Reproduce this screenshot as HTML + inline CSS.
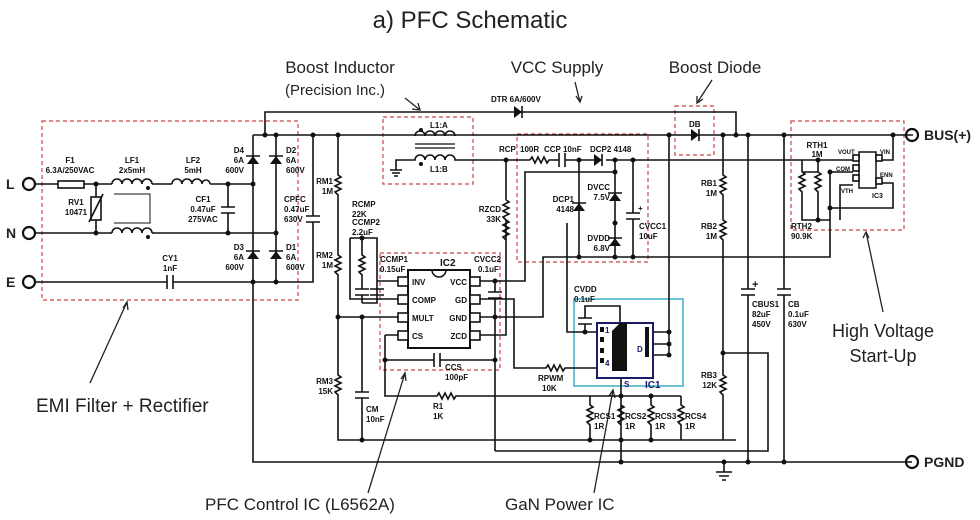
<!DOCTYPE html>
<html><head><meta charset="utf-8"><style>
html,body{margin:0;padding:0;background:#fff;}
svg{display:block;font-family:"Liberation Sans",Arial,sans-serif;}
.w{stroke:#111;stroke-width:1.6;fill:none;}
.d{stroke:#c44;stroke-width:1.2;fill:none;stroke-dasharray:4 3;}
.s{font-size:8px;font-weight:bold;fill:#111;}
.b{font-size:19px;fill:#222;}
.f{fill:#111;}
</style></head><body>
<svg width="980" height="520" viewBox="0 0 980 520" xmlns="http://www.w3.org/2000/svg">
<text x="470" y="28" class="b" text-anchor="middle" style="font-size:24px">a) PFC Schematic</text>
<text x="340" y="73" class="b" text-anchor="middle" style="font-size:17px">Boost Inductor</text>
<text x="335" y="95" class="b" text-anchor="middle" style="font-size:15px">(Precision  Inc.)</text>
<text x="557" y="73" class="b" text-anchor="middle" style="font-size:17px">VCC Supply</text>
<text x="715" y="73" class="b" text-anchor="middle" style="font-size:17px">Boost Diode</text>
<text x="36" y="412" class="b">EMI Filter + Rectifier</text>
<text x="205" y="510" class="b" style="font-size:17px">PFC Control IC (L6562A)</text>
<text x="505" y="510" class="b" style="font-size:17px">GaN Power IC</text>
<text x="883" y="337" class="b" text-anchor="middle" style="font-size:18px">High Voltage</text>
<text x="883" y="362" class="b" text-anchor="middle" style="font-size:18px">Start-Up</text>
<g class="w" style="stroke:#222;stroke-width:1.3">
<path d="M90 383 L127 302"/><path d="M123 308 L127 302 L128 310"/>
<path d="M368 493 L405 373"/><path d="M401 379 L405 373 L406 381"/>
<path d="M594 493 L613 390"/><path d="M609 396 L613 390 L615 398"/>
<path d="M883 312 L866 232"/><path d="M863 238 L866 232 L869 238"/>
<path d="M405 98 L420 110"/><path d="M412 109 L420 110 L418 103"/>
<path d="M575 82 L580 102"/><path d="M576 96 L580 102 L582 96"/>
<path d="M712 80 L697 103"/><path d="M697 96 L697 103 L703 99"/>
</g>
<rect class="d" x="42" y="121" width="256" height="179"/>
<rect class="d" x="383" y="117" width="90" height="67"/>
<rect class="d" x="517" y="134" width="131" height="128"/>
<rect class="d" x="675" y="106" width="39" height="49"/>
<rect class="d" x="791" y="121" width="113" height="109"/>
<rect class="d" x="380" y="253" width="120" height="117"/>
<rect x="574" y="299" width="109" height="87" fill="none" stroke="#3ab0c8" stroke-width="1.5"/>
<g class="w" style="stroke-width:2.2"><circle cx="29" cy="184" r="6"/><circle cx="29" cy="233" r="6"/><circle cx="29" cy="282" r="6"/><circle cx="912" cy="135" r="6"/><circle cx="912" cy="462" r="6"/></g>
<text x="6" y="189" class="b" style="font-size:14px;font-weight:bold">L</text>
<text x="6" y="238" class="b" style="font-size:14px;font-weight:bold">N</text>
<text x="6" y="287" class="b" style="font-size:14px;font-weight:bold">E</text>
<text x="924" y="140" class="b" style="font-size:14px;font-weight:bold">BUS(+)</text>
<text x="924" y="467" class="b" style="font-size:14px;font-weight:bold">PGND</text>
<g class="w">
<path d="M35 184 H58 M84 184 H112 M152 184 H172 M210 184 H253"/>
<rect x="58" y="181" width="26" height="7"/>
<path d="M112 184 a5 5 0 0 1 10 0 a5 5 0 0 1 10 0 a5 5 0 0 1 10 0 a5 5 0 0 1 10 0"/>
<path d="M112 233 a5 5 0 0 1 10 0 a5 5 0 0 1 10 0 a5 5 0 0 1 10 0 a5 5 0 0 1 10 0"/>
<path d="M172 184 a5 5 0 0 1 10 0 a5 5 0 0 1 10 0 a5 5 0 0 1 10 0 a4 4 0 0 1 8 0"/>
<path d="M114 194 H150 V223 H114" style="stroke-width:1"/>
<path d="M35 233 H112 M152 233 H276"/>
<path d="M96 184 V197 M96 220 V233"/><rect x="91" y="197" width="10" height="23"/><path d="M89 222 L103 194"/>
<path d="M228 184 V207 M228 213 V233 M221 207 H235 M221 213 H235"/>
<path d="M35 282 H167 M173 282 H313 V222 M313 216 V135 M306 216 H320 M306 222 H320 M167 275 V289 M173 275 V289"/>
<path d="M253 135 V462 H912"/>
<path d="M276 135 V282"/>
<path d="M265 135 V112 H736 V135"/>
<path d="M253 135 H913"/>
<path d="M415 136 a5 5 0 0 1 10 0 a5 5 0 0 1 10 0 a5 5 0 0 1 10 0 a5 5 0 0 1 10 0"/>
<path d="M415 144 H455 M415 148 H455" style="stroke-width:1.2"/>
<path d="M396 170 V160 H415 a5 5 0 0 1 10 0 a5 5 0 0 1 10 0 a5 5 0 0 1 10 0 a5 5 0 0 1 10 0 H530 M390 170 H402 M392 173 H400 M394 176 H398"/>
<path d="M530 160 l2 -3 l3 6 l3 -6 l3 6 l3 -6 l3 6 l2 -3 H559 M565 160 H594 M606 160 H853 M559 153 V167 M565 153 V167"/>
<path d="M338 135 V175 l3 2 l-6 3 l6 3 l-6 3 l6 3 l-6 3 l3 3 V255 l3 2 l-6 3 l6 3 l-6 3 l6 3 l-6 3 l3 3 V375 l3 2 l-6 3 l6 3 l-6 3 l6 3 l-6 3 l3 3 V440 H736"/>
<path d="M338 317 H398"/>
<path d="M362 317 V392 M355 392 H369 M355 398 H369 M362 398 V440"/>
<path d="M350 238 H377 V303 H362 M350 238 V299 H398 M362 238 V255 l3 2 l-6 3 l6 3 l-6 3 l6 3 l-6 3 l3 3 V289 M355 289 H369 M355 295 H369 M362 295 V303 M377 238 V289 M370 289 H384 M370 295 H384 M377 281 H398"/>
<rect x="408" y="270" width="62" height="78" style="stroke-width:2"/>
<path d="M432 270 a7 7 0 0 0 14 0" style="stroke-width:1.5"/>
<path d="M385 335 H398 M385 335 V396 H437 l2 -3 l3 6 l3 -6 l3 6 l3 -6 l3 6 l2 -3 H590 M385 360 H434 M440 360 H495 M434 353 V367 M440 353 V367"/>
<path d="M480 281 H525 V172 H615 M495 281 V292 M488 292 H502 M488 298 H502 M495 298 V451 M480 317 H543 V257 H830 V208 M480 299 H514 V368 H546 l2 -3 l3 6 l3 -6 l3 6 l3 -6 l3 6 l2 -3 H596 M480 335 H506 V220 l3 2 l-6 3 l6 3 l-6 3 l6 3 l-6 3 l3 3 M506 200 V160"/>
<path d="M506 200 l3 2 l-6 3 l6 3 l-6 3 l6 3 l-6 3 l3 3"/>
<path d="M495 451 H768 V353 H723"/>
<path d="M579 160 V257 M615 160 V257 M633 160 V213 M633 219 V257 M626 213 H640 M626 219 H640"/>
<path d="M567 223 V332 H596 M585 332 V324 M578 324 H592 M578 318 H592 M585 318 V306 H620 V325"/>
<path d="M669 135 V355 M653 332 H669 M653 344 H669 M653 355 H669"/>
<path d="M621 378 V462 M590 396 H681 M590 396 V405 l3 2 l-6 3 l6 3 l-6 3 l6 3 l-6 3 l3 3 V440 M621 405 l3 2 l-6 3 l6 3 l-6 3 l6 3 l-6 3 l3 3 M651 396 V405 l3 2 l-6 3 l6 3 l-6 3 l6 3 l-6 3 l3 3 V440 M681 396 V405 l3 2 l-6 3 l6 3 l-6 3 l6 3 l-6 3 l3 3 V440"/>
<path d="M723 135 V175 l3 2 l-6 3 l6 3 l-6 3 l6 3 l-6 3 l3 3 V220 l3 2 l-6 3 l6 3 l-6 3 l6 3 l-6 3 l3 3 V375 l3 2 l-6 3 l6 3 l-6 3 l6 3 l-6 3 l3 3 V440"/>
<path d="M748 135 V289 M748 295 V462 M741 289 H755 M741 295 H755 M784 135 V289 M784 295 V462 M777 289 H791 M777 295 H791"/>
<path d="M724 462 V472 M716 472 H732 M719 476 H729 M722 480 H726"/>
<path d="M893 135 V160 H880 M818 160 V172 l3 2 l-6 3 l6 3 l-6 3 l6 3 l-6 3 l3 3 V220 M802 172 V160 M802 172 l3 2 l-6 3 l6 3 l-6 3 l6 3 l-6 3 l3 3 V220 H830 M830 208 V172 H853 M853 185 H840 V220 M880 183 H893 V208 H830 M802 172 H818"/>
<rect x="859" y="152" width="17" height="36" style="stroke-width:1.5"/>
</g>
<g class="w" style="stroke-width:1.6;fill:#fff">
<rect x="398" y="277" width="10" height="9"/><rect x="398" y="295" width="10" height="9"/><rect x="398" y="313" width="10" height="9"/><rect x="398" y="331" width="10" height="9"/>
<rect x="470" y="277" width="10" height="9"/><rect x="470" y="295" width="10" height="9"/><rect x="470" y="313" width="10" height="9"/><rect x="470" y="331" width="10" height="9"/>
<rect x="853" y="155" width="6" height="6"/><rect x="853" y="165" width="6" height="6"/><rect x="853" y="175" width="6" height="6"/><rect x="876" y="155" width="6" height="6"/><rect x="876" y="178" width="6" height="6"/>
</g>
<text x="412" y="285" class="s">INV</text><text x="412" y="303" class="s">COMP</text><text x="412" y="321" class="s">MULT</text><text x="412" y="339" class="s">CS</text>
<text x="467" y="285" class="s" text-anchor="end">VCC</text><text x="467" y="303" class="s" text-anchor="end">GD</text><text x="467" y="321" class="s" text-anchor="end">GND</text><text x="467" y="339" class="s" text-anchor="end">ZCD</text>
<text x="440" y="266" class="s" style="font-size:10px">IC2</text>
<rect x="597" y="323" width="56" height="55" fill="none" stroke="#1a1a6a" stroke-width="2"/>
<path d="M612 331 L620 323 H627 V371 H612 Z" fill="#111"/>
<g fill="#111"><rect x="600" y="327" width="4" height="5"/><rect x="600" y="337" width="4" height="5"/><rect x="600" y="348" width="4" height="5"/><rect x="600" y="358" width="4" height="5"/><rect x="645" y="327" width="4" height="30"/></g>
<text x="605" y="333" class="s" style="fill:#1a1a6a">1</text><text x="605" y="366" class="s" style="fill:#1a1a6a">4</text><text x="637" y="352" class="s" style="fill:#1a1a6a">D</text><text x="624" y="387" class="s" style="fill:#1a1a6a">S</text><text x="645" y="388" class="s" style="fill:#1a1a6a;font-size:10px">IC1</text>
<g class="f">
<polygon points="247,164 259,164 253,156"/><polygon points="270,164 282,164 276,156"/>
<polygon points="247,259 259,259 253,251"/><polygon points="270,259 282,259 276,251"/>
<polygon points="514,106 514,118 522,112"/><polygon points="691,129 691,141 699,135"/>
<polygon points="594,154 594,166 602,160"/><polygon points="573,211 585,211 579,203"/>
<polygon points="609,201 621,201 615,193"/><polygon points="609,246 621,246 615,238"/>
</g>
<g class="w"><path d="M246 156 H260 M269 156 H283 M246 251 H260 M269 251 H283 M522 106 V118 M699 129 V141 M602 154 V166 M572 203 H586 M608 193 H622 M608 238 H622"/></g>
<g class="f">
<circle cx="96" cy="184" r="2.5"/><circle cx="96" cy="233" r="2.5"/><circle cx="228" cy="184" r="2.5"/><circle cx="228" cy="233" r="2.5"/>
<circle cx="253" cy="184" r="2.5"/><circle cx="276" cy="233" r="2.5"/><circle cx="253" cy="282" r="2.5"/><circle cx="276" cy="282" r="2.5"/>
<circle cx="265" cy="135" r="2.5"/><circle cx="276" cy="135" r="2.5"/><circle cx="313" cy="135" r="2.5"/><circle cx="338" cy="135" r="2.5"/>
<circle cx="338" cy="317" r="2.5"/><circle cx="362" cy="317" r="2.5"/><circle cx="362" cy="440" r="2.5"/><circle cx="362" cy="238" r="2.5"/>
<circle cx="506" cy="160" r="2.5"/><circle cx="579" cy="160" r="2.5"/><circle cx="615" cy="160" r="2.5"/><circle cx="633" cy="160" r="2.5"/>
<circle cx="615" cy="172" r="2.5"/><circle cx="615" cy="223" r="2.5"/><circle cx="579" cy="257" r="2.5"/><circle cx="615" cy="257" r="2.5"/><circle cx="633" cy="257" r="2.5"/>
<circle cx="669" cy="135" r="2.5"/><circle cx="723" cy="135" r="2.5"/><circle cx="736" cy="135" r="2.5"/><circle cx="748" cy="135" r="2.5"/><circle cx="784" cy="135" r="2.5"/><circle cx="893" cy="135" r="2.5"/>
<circle cx="669" cy="332" r="2.5"/><circle cx="669" cy="344" r="2.5"/><circle cx="669" cy="355" r="2.5"/><circle cx="585" cy="332" r="2.5"/>
<circle cx="723" cy="353" r="2.5"/><circle cx="590" cy="440" r="2.5"/><circle cx="621" cy="440" r="2.5"/><circle cx="651" cy="440" r="2.5"/><circle cx="621" cy="396" r="2.5"/><circle cx="651" cy="396" r="2.5"/>
<circle cx="621" cy="462" r="2.5"/><circle cx="724" cy="462" r="2.5"/><circle cx="748" cy="462" r="2.5"/><circle cx="784" cy="462" r="2.5"/>
<circle cx="385" cy="360" r="2.5"/><circle cx="495" cy="360" r="2.5"/><circle cx="495" cy="281" r="2.5"/><circle cx="495" cy="317" r="2.5"/>
<circle cx="818" cy="160" r="2.5"/><circle cx="818" cy="220" r="2.5"/><circle cx="830" cy="172" r="2.5"/><circle cx="830" cy="208" r="2.5"/>
<circle cx="148" cy="188" r="2"/><circle cx="148" cy="237" r="2"/><circle cx="421" cy="130" r="2"/><circle cx="421" cy="164" r="2"/>
</g>
<g class="s">
<text x="70" y="163" text-anchor="middle">F1</text><text x="70" y="173" text-anchor="middle">6.3A/250VAC</text>
<text x="132" y="163" text-anchor="middle">LF1</text><text x="132" y="173" text-anchor="middle">2x5mH</text>
<text x="193" y="163" text-anchor="middle">LF2</text><text x="193" y="173" text-anchor="middle">5mH</text>
<text x="76" y="205" text-anchor="middle">RV1</text><text x="76" y="215" text-anchor="middle">10471</text>
<text x="203" y="202" text-anchor="middle">CF1</text><text x="203" y="212" text-anchor="middle">0.47uF</text><text x="203" y="222" text-anchor="middle">275VAC</text>
<text x="244" y="153" text-anchor="end">D4</text><text x="244" y="163" text-anchor="end">6A</text><text x="244" y="173" text-anchor="end">600V</text>
<text x="286" y="153">D2</text><text x="286" y="163">6A</text><text x="286" y="173">600V</text>
<text x="244" y="250" text-anchor="end">D3</text><text x="244" y="260" text-anchor="end">6A</text><text x="244" y="270" text-anchor="end">600V</text>
<text x="286" y="250">D1</text><text x="286" y="260">6A</text><text x="286" y="270">600V</text>
<text x="284" y="202">CPFC</text><text x="284" y="212">0.47uF</text><text x="284" y="222">630V</text>
<text x="170" y="261" text-anchor="middle">CY1</text><text x="170" y="271" text-anchor="middle">1nF</text>
<text x="333" y="184" text-anchor="end">RM1</text><text x="333" y="194" text-anchor="end">1M</text>
<text x="333" y="258" text-anchor="end">RM2</text><text x="333" y="268" text-anchor="end">1M</text>
<text x="333" y="384" text-anchor="end">RM3</text><text x="333" y="394" text-anchor="end">15K</text>
<text x="352" y="207">RCMP</text><text x="352" y="217">22K</text><text x="352" y="225">CCMP2</text><text x="352" y="235">2.2uF</text>
<text x="380" y="262">CCMP1</text><text x="380" y="272">0.15uF</text>
<text x="474" y="262">CVCC2</text><text x="478" y="272">0.1uF</text>
<text x="445" y="370">CCS</text><text x="445" y="380">100pF</text>
<text x="433" y="409">R1</text><text x="433" y="419">1K</text>
<text x="366" y="412">CM</text><text x="366" y="422">10nF</text>
<text x="491" y="102">DTR 6A/600V</text>
<text x="499" y="152">RCP</text><text x="520" y="152">100R</text><text x="544" y="152">CCP 10nF</text><text x="590" y="152">DCP2 4148</text>
<text x="501" y="212" text-anchor="end">RZCD</text><text x="501" y="222" text-anchor="end">33K</text>
<text x="574" y="202" text-anchor="end">DCP1</text><text x="574" y="212" text-anchor="end">4148</text>
<text x="610" y="190" text-anchor="end">DVCC</text><text x="610" y="200" text-anchor="end">7.5V</text>
<text x="610" y="241" text-anchor="end">DVDD</text><text x="610" y="251" text-anchor="end">6.8V</text>
<text x="639" y="229">CVCC1</text><text x="639" y="239">10uF</text><text x="638" y="211">+</text>
<text x="574" y="292">CVDD</text><text x="574" y="302">0.1uF</text>
<text x="538" y="381">RPWM</text><text x="542" y="391">10K</text>
<text x="689" y="127">DB</text>
<text x="717" y="186" text-anchor="end">RB1</text><text x="717" y="196" text-anchor="end">1M</text>
<text x="717" y="229" text-anchor="end">RB2</text><text x="717" y="239" text-anchor="end">1M</text>
<text x="717" y="378" text-anchor="end">RB3</text><text x="717" y="388" text-anchor="end">12K</text>
<text x="752" y="307">CBUS1</text><text x="752" y="317">82uF</text><text x="752" y="327">450V</text><text x="752" y="288" style="font-size:11px">+</text>
<text x="788" y="307">CB</text><text x="788" y="317">0.1uF</text><text x="788" y="327">630V</text>
<text x="594" y="419">RCS1</text><text x="594" y="429">1R</text><text x="625" y="419">RCS2</text><text x="625" y="429">1R</text>
<text x="655" y="419">RCS3</text><text x="655" y="429">1R</text><text x="685" y="419">RCS4</text><text x="685" y="429">1R</text>
<text x="817" y="148" text-anchor="middle">RTH1</text><text x="817" y="157" text-anchor="middle">1M</text>
<text x="791" y="229">RTH2</text><text x="791" y="239">90.9K</text>
<text x="838" y="154" style="font-size:6px">VOUT</text><text x="836" y="171" style="font-size:6px">COM</text><text x="841" y="193" style="font-size:6px">VTH</text>
<text x="880" y="154" style="font-size:6px">VIN</text><text x="880" y="177" style="font-size:6px">ENN</text><text x="872" y="198" style="font-size:7px">IC3</text>
<text x="430" y="128">L1:A</text><text x="430" y="172">L1:B</text>
</g>
</svg>
</body></html>
